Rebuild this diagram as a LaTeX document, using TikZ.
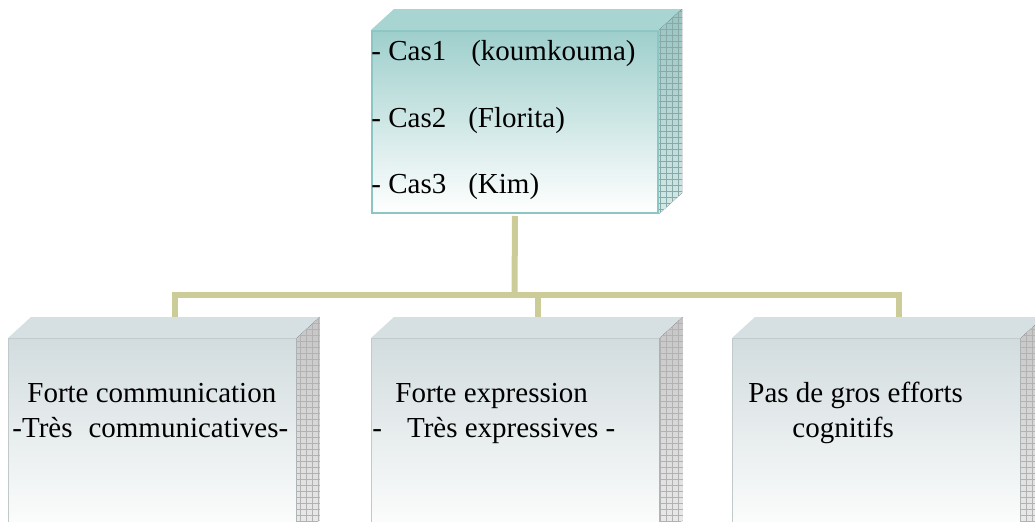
\documentclass[tikz,border=0pt]{standalone}
\usepackage{fontspec}
\setmainfont{Liberation Serif}
\usetikzlibrary{calc,positioning,patterns}
\definecolor{cadre}{HTML}{8CC6C4}
\definecolor{tealhaut}{HTML}{9ECFCC}
\definecolor{grisbleu}{HTML}{D2DCDE}
\definecolor{trait}{HTML}{CCCC99}

\begin{document}
\begin{tikzpicture}[x=0.5pt, y=-0.5pt, font=\fontsize{14.5}{17}\selectfont,
    haut/.style={draw=cadre, line width=1pt, top color=tealhaut, bottom color=white, minimum width=143pt, minimum height=91pt, inner sep=0pt},
    bas/.style={draw=grisbleu!80!gray, line width=0.4pt, top color=grisbleu, bottom color=white, minimum width=144pt, minimum height=101pt, inner sep=0pt},
    texte/.style={anchor=base west, inner sep=0pt},
    lien/.style={trait, line width=3pt}]
    \clip (0,0) rectangle (1035,521);

    % Boite du haut
    \node[haut, anchor=north west] (cas) at (371,30) {};
    \fill[tealhaut!90] (cas.north west) -- ++(23,-21) -- ($(cas.north east)+(23,-21)$) -- (cas.north east) -- cycle;
    \fill[top color=tealhaut!85!gray, bottom color=tealhaut!45, postaction={pattern=grid, pattern color=cadre!60!gray}]
        (cas.north east) -- ++(23,-21) -- ($(cas.south east)+(23,-21)$) -- (cas.south east) -- cycle;
    \node[texte] (cas1) at (371,60) {- Cas1\hspace{12.5pt}(koumkouma)};
    \node[texte] (cas2) at (371,127) {- Cas2\hspace{11pt}(Florita)};
    \node[texte] (cas3) at (371,193) {- Cas3\hspace{11pt}(Kim)};

    % Boites du bas
    \node[bas, anchor=north west] (b1) at (8,338) {};
    \node[bas, anchor=north west] (b2) at (371,338) {};
    \node[bas, anchor=north west] (b3) at (732,338) {};
    \foreach \b in {b1,b2,b3} {
        \fill[grisbleu!90] (\b.north west) -- ++(23,-21) -- ($(\b.north east)+(23,-21)$) -- (\b.north east) -- cycle;
        \fill[top color=gray!45, bottom color=gray!15, postaction={pattern=grid, pattern color=gray!60}]
            (\b.north east) -- ++(23,-21) -- ($(\b.south east)+(23,-21)$) -- (\b.south east) -- cycle;
        \coordinate (h\b) at ($(\b.north)+(23,-21)$);
    }
    \node[texte] (f1) at (27,402) {Forte communication};
    \node[texte] (f2) at (12,437) {-Très\hspace{8pt}communicatives-};
    \node[texte] (e1) at (395,402) {Forte expression};
    \node[texte] (e2) at (372,437) {-\hspace{12.5pt}Très expressives -};
    \node[texte] (p1) at (748,402) {Pas de gros efforts};
    \node[texte] (p2) at (792,437) {cognitifs};

    % Liens
    \coordinate (jonction) at (514.5,295);
    \draw[lien] ($(cas.south)+(0,2)$) -- (jonction);
    \draw[lien] (hb1) |- (jonction) -| (hb3);
    \draw[lien] (jonction) -| (hb2);
\end{tikzpicture}
\end{document}
